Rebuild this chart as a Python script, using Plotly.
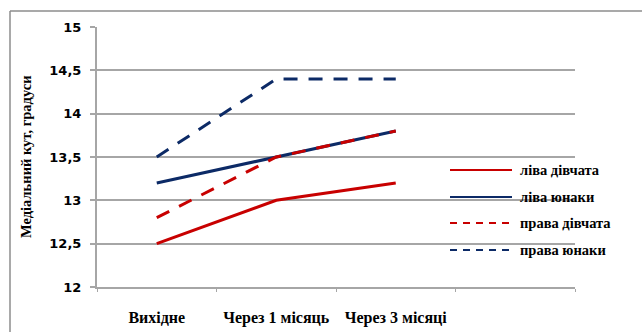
import plotly.graph_objects as go

# Data
categories = ["Вихідне", "Через 1 місяць", "Через 3 місяці"]
series_names = ["ліва дівчата", "ліва юнаки", "права дівчата", "права юнаки"]
liva_divchata = [12.5, 13.0, 13.2]
liva_yunaky = [13.2, 13.5, 13.8]
prava_divchata = [12.8, 13.5, 13.8]
prava_yunaky = [13.5, 14.4, 14.4]
y_ticks = [12, 12.5, 13, 13.5, 14, 14.5, 15]
y_tick_labels = ["12", "12,5", "13", "13,5", "14", "14,5", "15"]

RED = "#C80000"
NAVY = "#0C2A66"
GRID = "#A6A6A6"

styles = [
    dict(color=RED, dash="solid"),
    dict(color=NAVY, dash="solid"),
    dict(color=RED, dash="14px,11px"),
    dict(color=NAVY, dash="14px,11px"),
]
values = [liva_divchata, liva_yunaky, prava_divchata, prava_yunaky]

# plot-area geometry in pixels
W, H = 642, 332
L, R, T, B = 97, 575, 27, 287
pw, ph = R - L, B - T


def px_x(x):
    return (x - L) / pw


def px_y(y):
    return (B - y) / ph


xs = list(range(len(categories)))
fig = go.Figure()
for name, vals, st in zip(series_names, values, styles):
    fig.add_trace(go.Scatter(
        x=xs, y=vals, mode="lines", name=name,
        line=dict(color=st["color"], width=3, dash=st["dash"]),
        showlegend=False,
    ))

serif = "Liberation Serif"
shapes = []
annotations = []

# outer chart border (left and top edges)
shapes.append(dict(type="line", xref="paper", yref="paper",
                   x0=px_x(10), x1=px_x(10), y0=px_y(340), y1=px_y(11),
                   line=dict(color="#8C8C8C", width=1.5)))
shapes.append(dict(type="line", xref="paper", yref="paper",
                   x0=px_x(10), x1=px_x(650), y0=px_y(11), y1=px_y(11),
                   line=dict(color="#8C8C8C", width=1.5)))

# legend keys
legend_y = [170, 197, 223, 250]
for name, st, ly in zip(series_names, styles, legend_y):
    shapes.append(dict(type="line", xref="paper", yref="paper",
                       x0=px_x(450), x1=px_x(512), y0=px_y(ly), y1=px_y(ly),
                       line=dict(color=st["color"], width=2,
                                 dash="solid" if st["dash"] == "solid" else "7px,6px")))
    annotations.append(dict(text="<b>" + name + "</b>", xref="paper", yref="paper",
                            x=px_x(518), y=px_y(ly), xanchor="left", yanchor="middle",
                            showarrow=False,
                            font=dict(family=serif, size=14.5, color="#000000")))

# y-axis title
annotations.append(dict(text="<b>Медіальний кут, градуси</b>", xref="paper", yref="paper",
                        x=px_x(26), y=0.5, textangle=-90, xanchor="center", yanchor="middle",
                        showarrow=False, font=dict(family=serif, size=14.5, color="#000000")))

fig.update_layout(
    width=W, height=H,
    margin=dict(l=L, r=W - R, t=T, b=H - B),
    paper_bgcolor="white", plot_bgcolor="white",
    showlegend=False,
    shapes=shapes, annotations=annotations,
    xaxis=dict(
        range=[-0.5, 3.5], tickmode="array", tickvals=xs,
        ticktext=["<b>" + c + "</b>" for c in categories],
        ticks="", showgrid=False, zeroline=False, automargin=False,
        showline=True, linecolor=GRID, linewidth=2,
        tickfont=dict(family=serif, size=16, color="#000000"),
        ticklabelstandoff=15,
        minor=dict(ticks="outside", tick0=0.5, dtick=1, ticklen=3,
                   tickcolor=GRID, tickwidth=1, showgrid=False),
    ),
    yaxis=dict(
        range=[12, 15], tickmode="array", tickvals=y_ticks,
        ticktext=["<b>" + t + "</b>" for t in y_tick_labels],
        ticks="outside", ticklen=5, tickcolor=GRID, tickwidth=1.5,
        showgrid=True, gridcolor=GRID, gridwidth=1.5, automargin=False,
        zeroline=False, showline=True, linecolor=GRID, linewidth=2,
        tickfont=dict(family="DejaVu Sans", size=13, color="#000000"),
        ticklabelstandoff=6,
    ),
)

fig.write_html("out.html")
